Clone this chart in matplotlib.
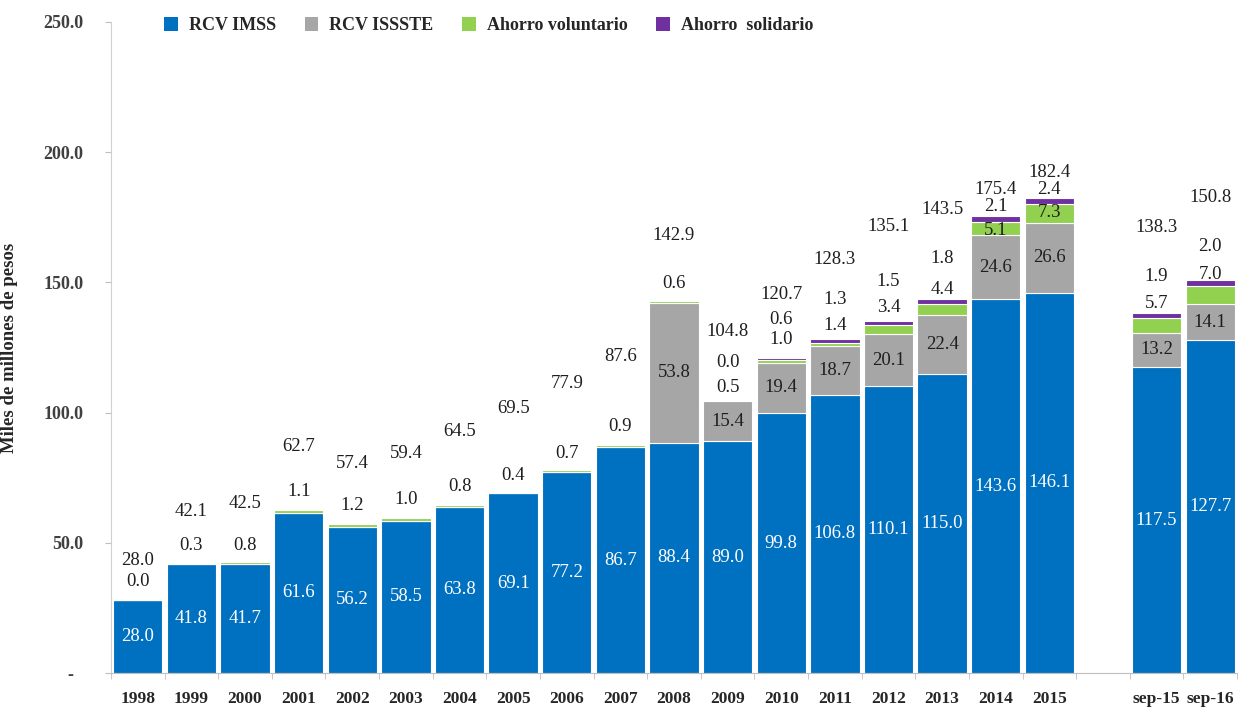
import numpy as np
import matplotlib
matplotlib.use("Agg")
import matplotlib.pyplot as plt
from matplotlib.patches import Patch

# ---------------- data ----------------
categories = ["1998", "1999", "2000", "2001", "2002", "2003", "2004", "2005",
              "2006", "2007", "2008", "2009", "2010", "2011", "2012", "2013",
              "2014", "2015", "", "sep-15", "sep-16"]
rcv_imss = [28.0, 41.8, 41.7, 61.6, 56.2, 58.5, 63.8, 69.1, 77.2, 86.7, 88.4,
            89.0, 99.8, 106.8, 110.1, 115.0, 143.6, 146.1, np.nan, 117.5, 127.7]
rcv_issste = [np.nan] * 10 + [53.8, 15.4, 19.4, 18.7, 20.1, 22.4, 24.6, 26.6,
                              np.nan, 13.2, 14.1]
ahorro_vol = [0.0, 0.3, 0.8, 1.1, 1.2, 1.0, 0.8, 0.4, 0.7, 0.9, 0.6, 0.5, 1.0,
              1.4, 3.4, 4.4, 5.1, 7.3, np.nan, 5.7, 7.0]
ahorro_sol = [np.nan] * 11 + [0.0, 0.6, 1.3, 1.5, 1.8, 2.1, 2.4, np.nan, 1.9, 2.0]
totals = [28.0, 42.1, 42.5, 62.7, 57.4, 59.4, 64.5, 69.5, 77.9, 87.6, 142.9,
          104.8, 120.7, 128.3, 135.1, 143.5, 175.4, 182.4, np.nan, 138.3, 150.8]
series_names = ["RCV IMSS", "RCV ISSSTE", "Ahorro voluntario", "Ahorro  solidario"]
y_ticks = [0, 50, 100, 150, 200, 250]
y_ticklabels = ["-  ", "50.0", "100.0", "150.0", "200.0", "250.0"]

# label offsets (pixels above top of each bar) for the small segments / totals
off_vol = [19, 18, 17, 18, 18, 18.6, 18, 17, 17, 18.5, 18, 12, 19, 14, 13.5, 10,
           -14.7, -14.5, 0, 9, 6]
off_sol = [0] * 11 + [37, 39, 40, 40, 40.5, 9.7, 9, 0, 36.7, 33.6]
off_tot = [40, 52, 58.5, 63, 60, 64.6, 73.6, 84, 86.5, 88.5, 65.5, 68, 64, 80,
           95, 90, 27, 26, 0, 85, 82.6]

colors = ["#0070C0", "#A6A6A6", "#92D050", "#7030A0"]
FONT = "Liberation Serif"
TXT = "#1F1F1F"

plt.rcParams["font.family"] = [FONT, "DejaVu Serif"]

fig = plt.figure(figsize=(12.49, 7.10), dpi=100)
ax = fig.add_axes([111 / 1249, 37 / 710, (1237 - 111) / 1249, (673 - 22) / 710])

x = np.arange(len(categories))
imss = np.nan_to_num(np.array(rcv_imss, float))
iss = np.nan_to_num(np.array(rcv_issste, float))
vol = np.nan_to_num(np.array(ahorro_vol, float))
sol = np.nan_to_num(np.array(ahorro_sol, float))

w = 0.92
kw = dict(width=w, edgecolor="white", linewidth=0.8)
ax.bar(x, imss, color=colors[0], **kw)
ax.bar(x, iss, bottom=imss, color=colors[1], **kw)
ax.bar(x, vol, bottom=imss + iss, color=colors[2], **kw)
ax.bar(x, sol, bottom=imss + iss + vol, color=colors[3], **kw)
top = imss + iss + vol + sol

fs = 13.5
for i in range(len(categories)):
    if np.isnan(rcv_imss[i]):
        continue
    ax.text(x[i], imss[i] / 2, f"{rcv_imss[i]:.1f}", ha="center", va="center",
            color="white", fontsize=fs)
    if not np.isnan(rcv_issste[i]):
        ax.text(x[i], imss[i] + iss[i] / 2, f"{rcv_issste[i]:.1f}", ha="center",
                va="center", color=TXT, fontsize=fs)
    ax.annotate(f"{ahorro_vol[i]:.1f}", (x[i], top[i]), xytext=(0, off_vol[i]),
                textcoords="offset pixels", ha="center", va="center",
                color=TXT, fontsize=fs)
    if not np.isnan(ahorro_sol[i]):
        ax.annotate(f"{ahorro_sol[i]:.1f}", (x[i], top[i]), xytext=(0, off_sol[i]),
                    textcoords="offset pixels", ha="center", va="center",
                    color=TXT, fontsize=fs)
    ax.annotate(f"{totals[i]:.1f}", (x[i], top[i]), xytext=(0, off_tot[i]),
                textcoords="offset pixels", ha="center", va="center",
                color=TXT, fontsize=fs)

ax.set_xlim(-0.5, len(categories) - 0.5)
ax.set_ylim(0, 250)
ax.set_yticks(y_ticks)
ax.set_yticklabels(y_ticklabels, fontsize=13, fontweight="bold", color="#404040")
ax.tick_params(axis="y", length=4, color="#BFBFBF", pad=16)

ax.set_xticks(x)
ax.set_xticklabels(categories, fontsize=12.5, fontweight="bold", color="#262626")
ax.set_xticks(np.arange(-0.5, len(categories)), minor=True)
ax.tick_params(axis="x", which="major", length=0, pad=13)
ax.tick_params(axis="x", which="minor", length=4, color="#BFBFBF")

for s in ["top", "right"]:
    ax.spines[s].set_visible(False)
ax.spines["left"].set_color("#D0D0D0")
ax.spines["bottom"].set_color("#BFBFBF")

ax.set_ylabel("Miles de millones de pesos", fontsize=13.5, fontweight="bold",
              color="#262626")
ax.yaxis.set_label_coords((18 - 111) / 1126, 0.5)

handles = [Patch(facecolor=c, edgecolor="none") for c in colors]
fig.legend(handles, series_names, loc="upper left",
           bbox_to_anchor=(148 / 1249, 1 - 1 / 710), ncol=4, frameon=False,
           prop={"family": FONT, "weight": "bold", "size": 13},
           handlelength=0.75, handleheight=0.75, handletextpad=0.6,
           columnspacing=1.6, labelcolor="#262626")

fig.savefig("out.png", dpi=100)
